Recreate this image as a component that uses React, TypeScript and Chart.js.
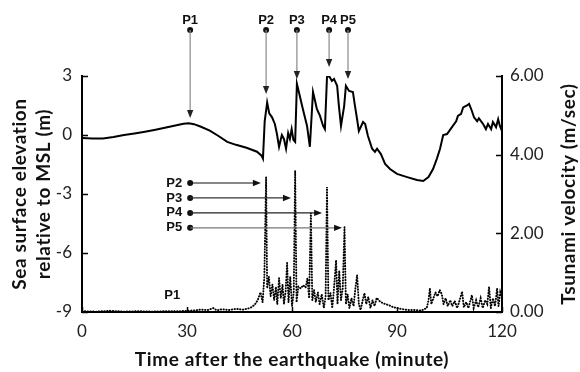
import { useEffect, useRef } from 'react';
import { Chart, registerables } from 'chart.js';

Chart.register(...registerables);

// Sea surface elevation (m, left axis) sampled against minutes after the earthquake
const elevTime = [
  0, 3, 6, 9, 12, 15, 18, 21, 24, 27, 29, 30.5, 32, 34, 36.5, 39, 41.5, 44, 47, 50, 51.3, 51.7,
  52.2, 52.9, 53.5, 54.3, 55.1, 55.7, 56.3, 57.1, 57.7, 58.3, 58.9, 59.4, 59.9, 60.4, 60.9,
  61.4, 62.3, 63.1, 64.3, 65.1, 66.0, 66.6, 67.1, 68.0, 68.9, 69.4, 70.0, 70.6, 71.4, 72.0,
  72.9, 73.4, 74.0, 74.9, 75.4, 76.3, 77.4, 78.0, 78.6, 79.1, 80.3, 80.9, 81.7, 82.9, 83.7,
  84.3, 85.4, 86.6, 88.0, 90.0, 92.9, 95.7, 97.5, 99.0, 100.3, 101.4, 102.3, 103.2, 104.3,
  105.7, 106.9, 107.4, 108.3, 108.9, 110.0, 110.6, 111.4, 112.0, 112.9, 113.4, 114.6, 115.4,
  116.0, 116.9, 117.4, 118.3, 118.9, 119.4, 120,
];
const elevValue = [
  -0.15, -0.18, -0.18, -0.1, 0.0, 0.08, 0.17, 0.27, 0.38, 0.5, 0.57, 0.6, 0.55, 0.42, 0.22, -0.05,
  -0.35, -0.5, -0.65, -0.85, -1.05, -1.2,
  0.7, 1.65, 1.1, 0.9, 0.56, 0.05, -0.6, 0.0, -0.2, -0.7, 0.1, -0.2, 0.3, -0.25, -0.35,
  2.6, 1.93, 1.32, 0.46, -0.6, 2.19, 1.73, 1.32, 0.97, 0.46, 0.3, 2.95, 3.0, 2.75, 2.85,
  2.5, 1.47, 0.46, 1.47, 2.5, 2.24, 2.19, 1.47, 0.8, 0.2, 0.66, 0.56, -0.05, -0.7, -0.86,
  -0.7, -0.97, -1.47, -1.73, -1.98, -2.14, -2.29, -2.34, -2.14, -1.73, -1.2, -0.7, 0.0, 0.05,
  0.4, 0.7, 0.97, 1.07, 1.4, 1.5, 1.58, 1.22, 0.9, 0.7, 0.85, 0.56, 0.3,
  0.56, 0.3, 0.66, 0.4, 0.8, 0.46, 0.2,
];

// Tsunami velocity (m/sec, right axis)
const velTime = [
  0, 4, 8, 12, 16, 20, 24, 28, 30, 32, 34, 36, 37.5, 38.5, 40, 42, 44, 46, 48, 49.3, 50.2, 51,
  51.6, 52.1, 52.6, 52.9, 53.4, 53.9, 54.4, 54.9, 55.4, 55.8, 56.3, 56.8, 57.3, 57.7, 58.2,
  58.6, 59.0, 59.5, 60.0, 60.5, 60.9, 61.3, 61.8, 62.5, 63.2, 63.9, 64.4, 64.9, 65.4, 65.8,
  66.3, 66.8, 67.4, 67.9, 68.5, 69.1, 69.6, 70.0, 70.4, 71.0, 71.5, 72.0, 72.6, 73.0, 73.5,
  74.0, 74.5, 75.0, 75.4, 75.9, 76.4, 77.0, 77.6, 78.1, 78.6, 79.1, 79.6, 80.2, 80.7, 81.2,
  81.8, 82.4, 83.0, 83.6, 84.2, 85.0, 86.0, 87.5, 89.0, 91.0, 93.0, 95.0, 97.0, 98.5, 99.0,
  99.4, 99.8, 100.4, 101.0, 101.6, 102.2, 102.8, 103.3, 103.9, 104.5, 105.2, 105.8, 106.5,
  107.2, 107.9, 108.6, 109.1, 109.8, 110.4, 111.0, 111.4, 111.9, 112.6, 113.2, 113.9, 114.5,
  115.2, 115.8, 116.3, 116.8, 117.4, 118.0, 118.6, 119.0, 119.5, 120,
];
const velValue = [
  0.02, 0.01, 0.03, 0.01, 0.02, 0.01, 0.02, 0.02, 0.03, 0.04, 0.06, 0.05, 0.1, 0.04, 0.07, 0.05,
  0.08, 0.06, 0.1, 0.18, 0.3, 0.5,
  0.25, 0.9, 3.43, 0.6, 0.9, 0.4, 0.7, 0.3, 0.64, 0.2, 0.86, 0.35, 0.7, 0.2, 0.55,
  1.25, 0.25, 0.9, 0.15, 0.5, 3.6, 0.25, 0.65, 0.6, 0.68, 0.62, 0.86, 0.35, 2.52, 0.3,
  0.56, 0.25, 0.5, 0.2, 0.45, 0.1, 0.4, 3.18, 0.3, 0.48, 0.1, 0.6, 1.32, 0.2, 1.05,
  0.3, 0.6, 2.16, 0.2, 0.45, 0.1, 0.35, 0.15, 0.6, 0.94, 0.2, 0.05, 0.3, 0.48, 0.2,
  0.38, 0.1, 0.3, 0.15, 0.36, 0.28, 0.22, 0.18, 0.12, 0.08, 0.05, 0.05, 0.04, 0.1, 0.3,
  0.6, 0.2, 0.35, 0.5, 0.4, 0.56, 0.45, 0.2, 0.35, 0.15, 0.3, 0.15, 0.28,
  0.1, 0.3, 0.52, 0.12, 0.25, 0.1, 0.3, 0.43, 0.1, 0.3, 0.12, 0.35, 0.1,
  0.3, 0.2, 0.64, 0.1, 0.35, 0.15, 0.6, 0.15, 0.5, 0.35,
];

const timeTicks = [0, 30, 60, 90, 120];
const elevTicks = [-9, -6, -3, 0, 3];
const velTicks = [0, 2, 4, 6];

// Observation points P1..P5: arrival time (min) and the elevation the arrow points at
const pointNames = ['P1', 'P2', 'P3', 'P4', 'P5'];
const pointTimes = [30.9, 52.6, 61.4, 70.6, 76.0];
const pointTipElev = [0.86, 2.08, 2.85, 3.46, 2.85];

// Velocity peaks at P2..P5: arrow end time (min) and row level (m/sec)
const peakNames = ['P2', 'P3', 'P4', 'P5'];
const peakTimes = [51.1, 59.7, 68.6, 74.3];
const peakRows = [3.28, 2.9, 2.52, 2.14];
const peakColors = ['#111', '#333', '#222', '#777'];
const baseLabelVel = 0.43;

const TITLE_FONT = 'bold 19px Lato';
const TICK_FONT = { family: 'Lato', size: 17 };

const overlayPlugin = {
  id: 'overlay',
  afterDraw(chart: any) {
    const { ctx, chartArea: ca, scales } = chart;
    const x = scales.x;
    const y = scales.y;
    const y1 = scales.y1;
    ctx.save();

    // inward tick marks
    ctx.strokeStyle = '#000';
    ctx.lineWidth = 1.5;
    ctx.beginPath();
    timeTicks.forEach((t) => {
      const px = Math.round(x.getPixelForValue(t)) + 0.5;
      ctx.moveTo(px, ca.bottom);
      ctx.lineTo(px, ca.bottom - 5);
    });
    elevTicks.forEach((v) => {
      const py = Math.round(y.getPixelForValue(v)) + 0.5;
      ctx.moveTo(ca.left, py);
      ctx.lineTo(ca.left + 6, py);
    });
    velTicks.forEach((v) => {
      const py = Math.round(y1.getPixelForValue(v)) + 0.5;
      ctx.moveTo(ca.right, py);
      ctx.lineTo(ca.right - 6, py);
    });
    ctx.stroke();

    const arrowDown = (px: number, tip: number) => {
      ctx.beginPath();
      ctx.moveTo(px, tip);
      ctx.lineTo(px - 3.2, tip - 8);
      ctx.lineTo(px + 3.2, tip - 8);
      ctx.closePath();
      ctx.fill();
    };
    const arrowRight = (tipX: number, py: number) => {
      ctx.beginPath();
      ctx.moveTo(tipX, py);
      ctx.lineTo(tipX - 8, py - 3.2);
      ctx.lineTo(tipX - 8, py + 3.2);
      ctx.closePath();
      ctx.fill();
    };

    // labelled arrows above the elevation curve
    ctx.font = 'bold 13px "Liberation Sans", Arial';
    const labelY = ca.top - 56;
    const dotY = ca.top - 46;
    pointNames.forEach((name, i) => {
      const px = x.getPixelForValue(pointTimes[i]);
      const tip = y.getPixelForValue(pointTipElev[i]);
      ctx.fillStyle = '#111';
      ctx.textAlign = 'center';
      ctx.textBaseline = 'middle';
      ctx.fillText(name, px, labelY);
      ctx.beginPath();
      ctx.arc(px, dotY, 3, 0, Math.PI * 2);
      ctx.fill();
      ctx.strokeStyle = '#888';
      ctx.lineWidth = 1.2;
      ctx.beginPath();
      ctx.moveTo(px, dotY);
      ctx.lineTo(px, tip - 6);
      ctx.stroke();
      ctx.fillStyle = '#222';
      arrowDown(px, tip);
    });

    // horizontal arrows from P1 time to the velocity peaks
    const startX = x.getPixelForValue(pointTimes[0]);
    peakNames.forEach((name, i) => {
      const py = y1.getPixelForValue(peakRows[i]);
      const endX = x.getPixelForValue(peakTimes[i]);
      ctx.fillStyle = '#111';
      ctx.textAlign = 'right';
      ctx.textBaseline = 'middle';
      ctx.fillText(name, startX - 8, py);
      ctx.beginPath();
      ctx.arc(startX, py, 3, 0, Math.PI * 2);
      ctx.fill();
      ctx.strokeStyle = peakColors[i];
      ctx.lineWidth = 1.2;
      ctx.beginPath();
      ctx.moveTo(startX, py);
      ctx.lineTo(endX - 6, py);
      ctx.stroke();
      ctx.fillStyle = '#111';
      arrowRight(endX, py);
    });
    ctx.fillStyle = '#111';
    ctx.textAlign = 'right';
    ctx.fillText('P1', startX - 10, y1.getPixelForValue(baseLabelVel));

    // axis titles
    ctx.fillStyle = '#111';
    ctx.font = TITLE_FONT;
    (ctx as any).letterSpacing = '0.6px';
    ctx.textAlign = 'center';
    ctx.textBaseline = 'middle';
    const midX = (ca.left + ca.right) / 2;
    const midY = (ca.top + ca.bottom) / 2;
    ctx.fillText('Time after the earthquake (minute)', midX, ca.bottom + 48);

    ctx.save();
    ctx.translate(ca.left - 62, midY);
    ctx.rotate(-Math.PI / 2);
    ctx.fillText('Sea surface elevation', 0, 0);
    ctx.restore();

    ctx.save();
    ctx.translate(ca.left - 38, midY);
    ctx.rotate(-Math.PI / 2);
    ctx.fillText('relative to MSL (m)', 0, 0);
    ctx.restore();

    ctx.save();
    ctx.translate(ca.right + 67, midY);
    ctx.rotate(-Math.PI / 2);
    ctx.fillText('Tsunami velocity (m/sec)', 0, 0);
    ctx.restore();

    ctx.restore();
  },
};

export default function App() {
  const canvasRef = useRef<HTMLCanvasElement | null>(null);

  useEffect(() => {
    const canvas = canvasRef.current;
    if (!canvas) return;

    const elevPoints = elevTime.map((t, i) => ({ x: t, y: elevValue[i] }));
    const velPoints = velTime.map((t, i) => ({ x: t, y: velValue[i] }));

    const chart = new Chart(canvas, {
      type: 'line',
      data: {
        datasets: [
          {
            label: 'Tsunami velocity',
            data: velPoints,
            yAxisID: 'y1',
            borderColor: '#000',
            borderWidth: 1.9,
            borderDash: [0.4, 2.4],
            borderCapStyle: 'round',
            pointRadius: 0,
            tension: 0,
            fill: false,
          },
          {
            label: 'Sea surface elevation',
            data: elevPoints,
            yAxisID: 'y',
            borderColor: '#000',
            borderWidth: 2,
            pointRadius: 0,
            tension: 0,
            fill: false,
          },
        ],
      },
      options: {
        responsive: false,
        animation: false,
        events: [],
        layout: { padding: { top: 76, left: 0, right: 0, bottom: 0 } },
        plugins: { legend: { display: false }, tooltip: { enabled: false } },
        scales: {
          x: {
            type: 'linear',
            min: 0,
            max: 120,
            afterBuildTicks: (s: any) => {
              s.ticks = timeTicks.map((v) => ({ value: v }));
            },
            afterFit: (s: any) => {
              s.height = 60;
            },
            grid: { display: false, drawTicks: false },
            border: { display: true, color: '#000', width: 2 },
            ticks: { color: '#222', font: TICK_FONT, padding: 9, maxRotation: 0 },
          },
          y: {
            type: 'linear',
            position: 'left',
            min: -9,
            max: 3,
            afterBuildTicks: (s: any) => {
              s.ticks = elevTicks.map((v) => ({ value: v }));
            },
            afterFit: (s: any) => {
              s.width = 82;
            },
            grid: { display: false, drawTicks: false },
            border: { display: true, color: '#000', width: 2 },
            ticks: { color: '#222', font: TICK_FONT, padding: 10 },
          },
          y1: {
            type: 'linear',
            position: 'right',
            min: 0,
            max: 6,
            afterBuildTicks: (s: any) => {
              s.ticks = velTicks.map((v) => ({ value: v }));
            },
            afterFit: (s: any) => {
              s.width = 78;
            },
            grid: { display: false, drawTicks: false },
            border: { display: true, color: '#000', width: 2 },
            ticks: {
              color: '#222',
              font: TICK_FONT,
              padding: 8,
              callback: (v: any) => Number(v).toFixed(2),
            },
          },
        },
      },
      plugins: [overlayPlugin],
    });

    return () => chart.destroy();
  }, []);

  return (
    <div style={{ position: 'absolute', left: 0, top: 0, width: 580, height: 372, background: '#fff' }}>
      <canvas ref={canvasRef} width={580} height={372} style={{ display: 'block' }} />
    </div>
  );
}
